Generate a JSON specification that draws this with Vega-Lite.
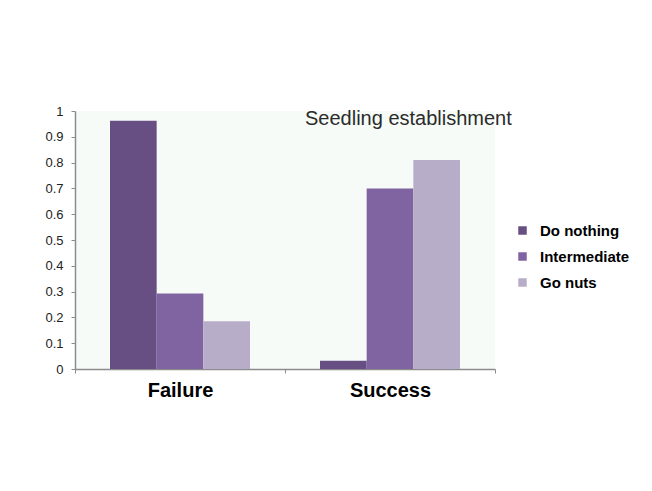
{
  "$schema": "https://vega.github.io/schema/vega-lite/v6.json",
  "autosize": "none",
  "padding": {"left": 75, "top": 111, "right": 157, "bottom": 122},
  "width": 420,
  "height": 258,
  "background": "#ffffff",
  "config": {
    "font": "Liberation Sans",
    "view": {"fill": "#f6fbf8", "stroke": null}
  },
  "title": {
    "text": "Seedling establishment",
    "anchor": "start",
    "frame": "group",
    "dx": 230,
    "offset": 0,
    "dy": 40,
    "baseline": "alphabetic",
    "font": "Liberation Sans",
    "fontSize": 20,
    "fontWeight": "normal",
    "color": "#2b2b2b"
  },
  "data": {
    "values": [
      {"outcome": "Failure", "strategy": "Do nothing", "value": 0.962},
      {"outcome": "Failure", "strategy": "Intermediate", "value": 0.293},
      {"outcome": "Failure", "strategy": "Go nuts", "value": 0.185},
      {"outcome": "Success", "strategy": "Do nothing", "value": 0.032},
      {"outcome": "Success", "strategy": "Intermediate", "value": 0.70},
      {"outcome": "Success", "strategy": "Go nuts", "value": 0.81}
    ]
  },
  "mark": {"type": "bar"},
  "encoding": {
    "x": {
      "field": "outcome",
      "type": "nominal",
      "sort": ["Failure", "Success"],
      "scale": {"paddingInner": 0, "paddingOuter": 0},
      "axis": {
        "title": null,
        "labelAngle": 0,
        "labelFont": "Liberation Sans",
        "labelFontSize": 20,
        "labelFontWeight": "bold",
        "labelColor": "#000000",
        "labelPadding": 7,
        "tickBand": "extent",
        "tickSize": 4,
        "tickColor": "#8c8c8c",
        "domainColor": "#8c8c8c",
        "domainWidth": 1.5,
        "grid": false
      }
    },
    "xOffset": {
      "field": "strategy",
      "type": "nominal",
      "sort": ["Do nothing", "Intermediate", "Go nuts"],
      "scale": {"paddingInner": 0, "paddingOuter": 0.75}
    },
    "y": {
      "field": "value",
      "type": "quantitative",
      "scale": {"domain": [0, 1], "nice": false},
      "axis": {
        "title": null,
        "values": [0, 0.1, 0.2, 0.3, 0.4, 0.5, 0.6, 0.7, 0.8, 0.9, 1],
        "format": "~g",
        "labelFont": "Liberation Sans",
        "labelFontSize": 13,
        "labelColor": "#222222",
        "labelPadding": 8,
        "tickSize": 4,
        "tickColor": "#8c8c8c",
        "domainColor": "#8c8c8c",
        "domainWidth": 1.5,
        "grid": false
      }
    },
    "color": {
      "field": "strategy",
      "type": "nominal",
      "sort": ["Do nothing", "Intermediate", "Go nuts"],
      "scale": {
        "domain": ["Do nothing", "Intermediate", "Go nuts"],
        "range": ["#674f83", "#8064a2", "#b8adc9"]
      },
      "legend": {
        "title": null,
        "orient": "none",
        "legendX": 440,
        "legendY": 112,
        "padding": 0,
        "symbolType": "square",
        "symbolSize": 72,
        "symbolStrokeWidth": 0,
        "labelFont": "Liberation Sans",
        "labelFontSize": 15,
        "labelFontWeight": "bold",
        "labelColor": "#000000",
        "labelOffset": 10,
        "rowPadding": 10
      }
    }
  }
}
